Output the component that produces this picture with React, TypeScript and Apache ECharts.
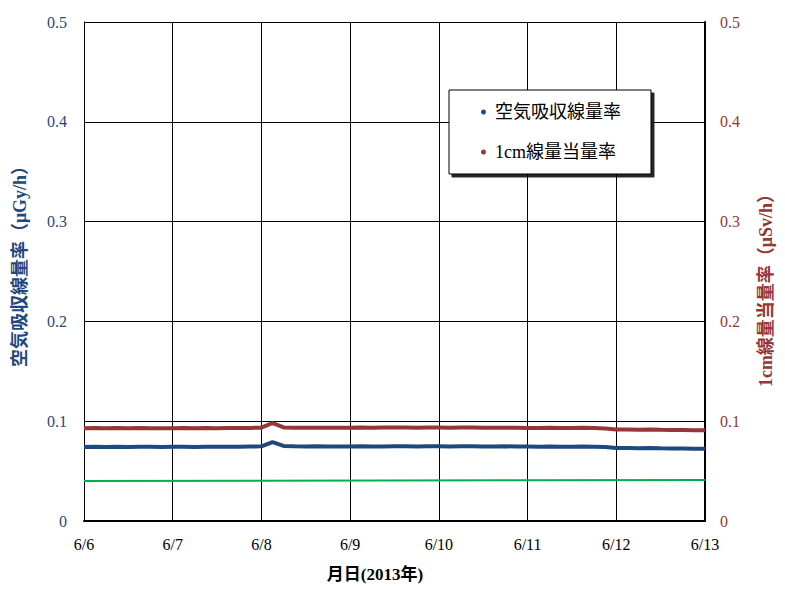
import React, { useEffect, useRef } from "react";
import * as echarts from "echarts";

// Sample times in days since 6/6 00:00 (every 3 hours)
const sampleDays = [
  0, 0.125, 0.25, 0.375, 0.5, 0.625, 0.75, 0.875,
  1, 1.125, 1.25, 1.375, 1.5, 1.625, 1.75, 1.875,
  2, 2.125, 2.25, 2.375, 2.5, 2.625, 2.75, 2.875,
  3, 3.125, 3.25, 3.375, 3.5, 3.625, 3.75, 3.875,
  4, 4.125, 4.25, 4.375, 4.5, 4.625, 4.75, 4.875,
  5, 5.125, 5.25, 5.375, 5.5, 5.625, 5.75, 5.875,
  6, 6.125, 6.25, 6.375, 6.5, 6.625, 6.75, 6.875,
  7,
];

const airDoseRate = [
  0.0742, 0.0745, 0.0741, 0.0744, 0.0742, 0.0745, 0.0743, 0.0741,
  0.0743, 0.0745, 0.0742, 0.0744, 0.0743, 0.0745, 0.0744, 0.0746,
  0.0748, 0.0790, 0.0752, 0.0749, 0.0747, 0.0748, 0.0746, 0.0747,
  0.0746, 0.0748, 0.0746, 0.0747, 0.0749, 0.0748, 0.0747, 0.0749,
  0.0748, 0.0747, 0.0749, 0.0748, 0.0747, 0.0746, 0.0748, 0.0747,
  0.0746, 0.0745, 0.0746, 0.0744, 0.0745, 0.0746, 0.0744, 0.0741,
  0.0732, 0.0731, 0.0729, 0.0731, 0.0728, 0.0727, 0.0726, 0.0724,
  0.0723,
];

const doseEquivRate = [
  0.0930, 0.0932, 0.0929, 0.0931, 0.0930, 0.0932, 0.0930, 0.0929,
  0.0930, 0.0931, 0.0929, 0.0931, 0.0930, 0.0932, 0.0931, 0.0933,
  0.0935, 0.0982, 0.0938, 0.0935, 0.0934, 0.0935, 0.0934, 0.0935,
  0.0934, 0.0936, 0.0935, 0.0936, 0.0937, 0.0936, 0.0935, 0.0937,
  0.0936, 0.0935, 0.0937, 0.0936, 0.0935, 0.0934, 0.0935, 0.0934,
  0.0933, 0.0932, 0.0934, 0.0932, 0.0933, 0.0934, 0.0931, 0.0928,
  0.0918, 0.0917, 0.0915, 0.0917, 0.0914, 0.0913, 0.0912, 0.0910,
  0.0909,
];

const greenLineDays = [0, 7];
const greenLineValues = [0.0402, 0.041];

const xTickLabels = ["6/6", "6/7", "6/8", "6/9", "6/10", "6/11", "6/12", "6/13"];
const seriesNames = ["空気吸収線量率", "1cm線量当量率"];

const BLUE = "#1F497D";
const RED = "#953735";
const GREEN = "#00B050";
const SERIF = "Liberation Serif, Times New Roman, Noto Sans CJK JP, serif";

export default function App() {
  const ref = useRef<HTMLDivElement>(null);
  useEffect(() => {
    if (!ref.current) return;
    document.body.style.margin = "0";
    const chart = echarts.init(ref.current, undefined, { renderer: "svg" });
    const yLabelBase = { fontFamily: SERIF, fontSize: 16 };
    chart.setOption({
      animation: false,
      backgroundColor: "#ffffff",
      grid: { left: 84, right: 80, top: 22, bottom: 69, containLabel: false },
      legend: {
        orient: "vertical",
        left: 449,
        top: 90,
        width: 203,
        padding: [13, 30, 13, 32],
        itemGap: 22,
        itemWidth: 5,
        itemHeight: 5,
        backgroundColor: "#ffffff",
        borderColor: "#000000",
        borderWidth: 1,
        shadowColor: "rgba(0,0,0,0.85)",
        shadowOffsetX: 3,
        shadowOffsetY: 3,
        shadowBlur: 0,
        textStyle: { fontFamily: SERIF, fontSize: 18, color: "#000", padding: [0, 0, 0, 4] },
        data: [
          { name: seriesNames[0], icon: "circle", itemStyle: { color: BLUE } },
          { name: seriesNames[1], icon: "circle", itemStyle: { color: RED } },
        ],
      },
      xAxis: {
        type: "value",
        min: 0,
        max: 7,
        interval: 1,
        axisLine: { show: true, lineStyle: { color: "#000", width: 2 } },
        axisTick: { show: false },
        splitLine: { show: true, lineStyle: { color: "#000", width: 1 } },
        axisLabel: {
          margin: 15,
          fontFamily: SERIF,
          fontSize: 16,
          color: "#000",
          formatter: (v: number) => xTickLabels[Math.round(v)] ?? "",
        },
      },
      yAxis: [
        {
          type: "value",
          min: 0,
          max: 0.5,
          interval: 0.1,
          axisLine: { show: true, lineStyle: { color: "#000", width: 1 } },
          axisTick: { show: false },
          splitLine: { show: true, lineStyle: { color: "#000", width: 1 } },
          axisLabel: {
            ...yLabelBase,
            color: BLUE,
            margin: 17,
            formatter: (v: number) => (v === 0 ? "0" : v.toFixed(1)),
          },
        },
        {
          type: "value",
          min: 0,
          max: 0.5,
          interval: 0.1,
          position: "right",
          axisLine: { show: true, lineStyle: { color: "#000", width: 2 } },
          axisTick: { show: false },
          splitLine: { show: false },
          axisLabel: {
            ...yLabelBase,
            color: RED,
            margin: 15,
            formatter: (v: number) => (v === 0 ? "0" : v.toFixed(1)),
          },
        },
      ],
      graphic: [
        {
          type: "text",
          x: 20,
          y: 262,
          rotation: Math.PI / 2,
          style: {
            text: "空気吸収線量率（μGy/h）",
            fill: BLUE,
            fontFamily: SERIF,
            fontSize: 18,
            fontWeight: "bold",
            textAlign: "center",
            textVerticalAlign: "middle",
          },
        },
        {
          type: "text",
          x: 766,
          y: 286,
          rotation: Math.PI / 2,
          style: {
            text: "1cm線量当量率（μSv/h）",
            fill: RED,
            fontFamily: SERIF,
            fontSize: 18,
            fontWeight: "bold",
            textAlign: "center",
            textVerticalAlign: "middle",
          },
        },
        {
          type: "text",
          x: 375,
          y: 574,
          style: {
            text: "月日(2013年)",
            fill: "#000",
            fontFamily: SERIF,
            fontSize: 17,
            fontWeight: "bold",
            textAlign: "center",
            textVerticalAlign: "middle",
          },
        },
      ],
      series: [
        {
          name: "green",
          type: "line",
          yAxisIndex: 0,
          showSymbol: false,
          lineStyle: { color: GREEN, width: 2 },
          itemStyle: { color: GREEN },
          data: greenLineDays.map((d, i) => [d, greenLineValues[i]]),
          z: 3,
        },
        {
          name: seriesNames[0],
          type: "line",
          yAxisIndex: 0,
          showSymbol: false,
          lineStyle: { color: BLUE, width: 4 },
          itemStyle: { color: BLUE },
          data: sampleDays.map((d, i) => [d, airDoseRate[i]]),
          z: 4,
        },
        {
          name: seriesNames[1],
          type: "line",
          yAxisIndex: 1,
          showSymbol: false,
          lineStyle: { color: RED, width: 4 },
          itemStyle: { color: RED },
          data: sampleDays.map((d, i) => [d, doseEquivRate[i]]),
          z: 4,
        },
      ],
    });
    return () => chart.dispose();
  }, []);
  return <div ref={ref} style={{ width: 785, height: 590 }} />;
}
